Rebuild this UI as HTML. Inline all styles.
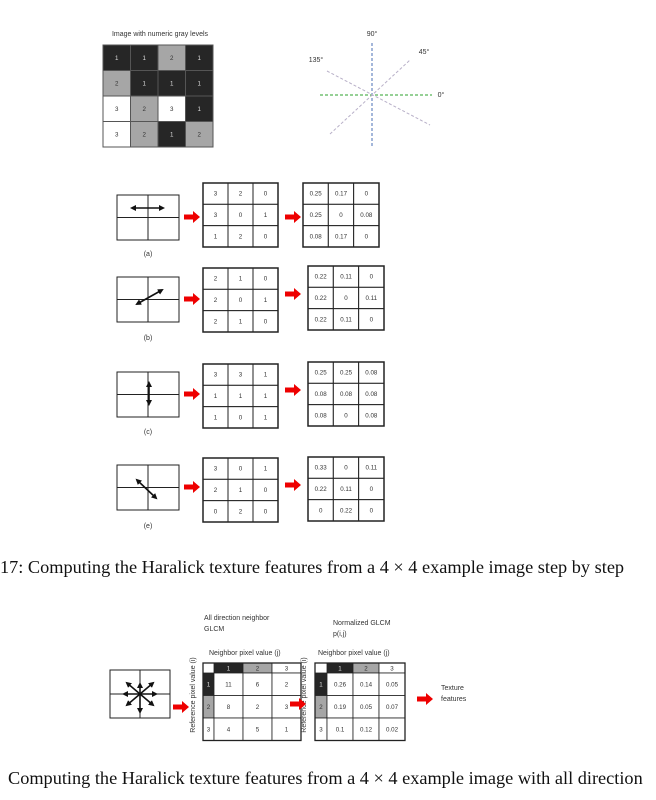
<!DOCTYPE html>
<html><head><meta charset="utf-8">
<style>
html,body{margin:0;padding:0;background:#fff;}
body{width:656px;height:800px;position:relative;overflow:hidden;}
svg{position:absolute;left:0;top:0;}
.cap{position:absolute;font-family:"Liberation Serif",serif;font-size:18.5px;white-space:nowrap;color:#111;}
</style></head>
<body>
<svg id="fig" width="656" height="800" font-family="Liberation Sans, sans-serif"></svg>
<div class="cap" style="left:0px;top:557px;font-size:18.3px;">17: Computing the Haralick texture features from a 4 × 4 example image step by step</div>
<div class="cap" style="left:8px;top:768px;font-size:18.3px;">Computing the Haralick texture features from a 4 × 4 example image with all direction</div>
<script>
const imageVals=[[1,1,2,1],[2,1,1,1],[3,2,3,1],[3,2,1,2]];
const glcmA=[[3,2,0],[3,0,1],[1,2,0]];
const normA=[["0.25","0.17","0"],["0.25","0","0.08"],["0.08","0.17","0"]];
const glcmB=[[2,1,0],[2,0,1],[2,1,0]];
const normB=[["0.22","0.11","0"],["0.22","0","0.11"],["0.22","0.11","0"]];
const glcmC=[[3,3,1],[1,1,1],[1,0,1]];
const normC=[["0.25","0.25","0.08"],["0.08","0.08","0.08"],["0.08","0","0.08"]];
const glcmD=[[3,0,1],[2,1,0],[0,2,0]];
const normD=[["0.33","0","0.11"],["0.22","0.11","0"],["0","0.22","0"]];
const glcmAll=[[11,6,2],[8,2,3],[4,5,1]];
const normAll=[["0.26","0.14","0.05"],["0.19","0.05","0.07"],["0.1","0.12","0.02"]];

const svg=document.getElementById('fig');
const NS='http://www.w3.org/2000/svg';
const FS=7, NFS=6.2;
function el(tag,attrs,parent){const e=document.createElementNS(NS,tag);for(const k in attrs)e.setAttribute(k,attrs[k]);(parent||svg).appendChild(e);return e;}
function txt(x,y,s,size,parent,anchor,fill){const t=el('text',{x:x,y:y,'font-size':size,'text-anchor':anchor||'middle',fill:fill||'#333'},parent);t.textContent=s;return t;}
const grayFill={1:'#262626',2:'#a6a6a6',3:'#ffffff'};
const grayText={1:'#ddd',2:'#333',3:'#333'};

let g=el('g',{});


txt(160,36,'Image with numeric gray levels',FS,g);
const ix=103,iy=45,cw=27.5,ch=25.5;
imageVals.forEach((row,r)=>row.forEach((v,c)=>{
  el('rect',{x:ix+c*cw,y:iy+r*ch,width:cw,height:ch,fill:grayFill[v],stroke:'#555','stroke-width':1},g);
  txt(ix+c*cw+cw/2,iy+r*ch+ch/2+2,String(v),NFS,g,'middle',grayText[v]);
}));

g=el('g',{});


el('line',{x1:372,y1:43,x2:372,y2:146,stroke:'#4a6fb5','stroke-width':1,'stroke-dasharray':'3,2'},g);
el('line',{x1:320,y1:95,x2:432,y2:95,stroke:'#2ca02c','stroke-width':1,'stroke-dasharray':'3,2'},g);
el('line',{x1:330,y1:134,x2:410,y2:60,stroke:'#b8b0c8','stroke-width':1,'stroke-dasharray':'3,2'},g);
el('line',{x1:327,y1:71,x2:430,y2:125,stroke:'#b8b0c8','stroke-width':1,'stroke-dasharray':'3,2'},g);
txt(372,36,'90°',FS,g);txt(424,54,'45°',FS,g);txt(316,62,'135°',FS,g);txt(441,97,'0°',FS,g);

function redArrow(x,y,name){
  const a=el('polygon',{points:`${x},${y-2.5} ${x+9},${y-2.5} ${x+9},${y-6} ${x+16},${y} ${x+9},${y+6} ${x+9},${y+2.5} ${x},${y+2.5}`,fill:'#ee0000'});
  
  
}
function matrix(x,y,w,h,data,name){
  const m=el('g',{});
  
  
  const cw=w/3,ch=h/3;
  data.forEach((row,r)=>row.forEach((v,c)=>{
    el('rect',{x:x+c*cw,y:y+r*ch,width:cw,height:ch,fill:'#fff',stroke:'#222','stroke-width':1},m);
    txt(x+c*cw+cw/2,y+r*ch+ch/2+2,String(v),NFS,m);
  }));
  el('rect',{x:x,y:y,width:w,height:h,fill:'none',stroke:'#222','stroke-width':1.5},m);
}
function dirBox(x,y,w,h,name,arrows){
  const b=el('g',{});
  
  
  el('rect',{x:x,y:y,width:w,height:h,fill:'#fff',stroke:'#222','stroke-width':1},b);
  el('line',{x1:x+w/2,y1:y,x2:x+w/2,y2:y+h,stroke:'#222','stroke-width':1},b);
  el('line',{x1:x,y1:y+h/2,x2:x+w,y2:y+h/2,stroke:'#222','stroke-width':1},b);
  arrows.forEach(a=>{
    el('line',{x1:a[0],y1:a[1],x2:a[2],y2:a[3],stroke:'#111','stroke-width':1.6,'marker-start':'url(#ah)','marker-end':'url(#ah)'},b);
  });
}
const defs=el('defs',{});
const mk=el('marker',{id:'ah',markerWidth:6,markerHeight:6,refX:4,refY:3,orient:'auto-start-reverse',markerUnits:'userSpaceOnUse'},defs);
el('path',{d:'M0,0 L6,3 L0,6 Z',fill:'#111'},mk);

const rows=[
 {by:195,m1y:183,m2y:183,m2x:303,lab:'(a)',ly:256,g1:glcmA,g2:normA,arr:[[132,208,163,208]],key:'a'},
 {by:277,m1y:268,m2y:266,m2x:308,lab:'(b)',ly:340,g1:glcmB,g2:normB,arr:[[137,304,162,290]],key:'b'},
 {by:372,m1y:364,m2y:362,m2x:308,lab:'(c)',ly:434,g1:glcmC,g2:normC,arr:[[149,383,149,404]],key:'c'},
 {by:465,m1y:458,m2y:457,m2x:308,lab:'(e)',ly:528,g1:glcmD,g2:normD,arr:[[137,480,156,498]],key:'d'}
];
rows.forEach(r=>{
  dirBox(117,r.by,62,45,'direction-box-'+r.key,r.arr);
  const l=txt(148,r.ly,r.lab,FS);
  
  
  redArrow(184,r.by+22,'arrow-to-glcm-'+r.key);
  matrix(203,r.m1y,75,64,r.g1,'glcm-'+r.key);
  redArrow(285,r.m2y+(r.key==='a'?34:28),'arrow-to-norm-'+r.key);
  matrix(r.m2x,r.m2y,76,64,r.g2,'normalized-glcm-'+r.key);
});

dirBox(110,670,60,48,'all-direction-box',[[140,684,140,712],[124,694,156,694],[127,683,153,705],[153,683,127,705]]);
redArrow(173,707,'arrow-to-all-glcm');
function headMatrix(x,y,lw,cw,hh,rh,data,name){
  const m=el('g',{});
  
  
  const heads=[1,2,3];
  heads.forEach((v,c)=>{
    el('rect',{x:x+lw+c*cw,y:y,width:cw,height:hh,fill:grayFill[v],stroke:'#222','stroke-width':0.8},m);
    txt(x+lw+c*cw+cw/2,y+hh-2.5,String(v),NFS,m,'middle',grayText[v]);
    el('rect',{x:x,y:y+hh+c*rh,width:lw,height:rh,fill:grayFill[v],stroke:'#222','stroke-width':0.8},m);
    txt(x+lw/2,y+hh+c*rh+rh/2+2,String(v),NFS,m,'middle',grayText[v]);
  });
  data.forEach((row,r)=>row.forEach((v,c)=>{
    el('rect',{x:x+lw+c*cw,y:y+hh+r*rh,width:cw,height:rh,fill:'#fff',stroke:'#222','stroke-width':0.8},m);
    txt(x+lw+c*cw+cw/2,y+hh+r*rh+rh/2+2,String(v),NFS,m);
  }));
  el('rect',{x:x,y:y,width:lw+3*cw,height:hh+3*rh,fill:'none',stroke:'#222','stroke-width':1.3},m);
}
headMatrix(203,663,11,29,10,22.5,glcmAll,'all-direction-glcm');
headMatrix(315,663,12,26,10,22.5,normAll,'all-direction-normalized-glcm');
let t;
t=txt(204,620,'All direction neighbor',FS,null,'start');
txt(204,631,'GLCM',FS,null,'start');
t=txt(333,625,'Normalized GLCM',FS,null,'start');
txt(333,636,'p(i,j)',FS,null,'start');
txt(209,655,'Neighbor pixel value (j)',FS,null,'start');
txt(318,655,'Neighbor pixel value (j)',FS,null,'start');
t=el('text',{x:0,y:0,'font-size':FS,'text-anchor':'middle',fill:'#333',transform:'translate(195,695) rotate(-90)'});t.textContent='Reference pixel value (i)';
t=el('text',{x:0,y:0,'font-size':FS,'text-anchor':'middle',fill:'#333',transform:'translate(306,695) rotate(-90)'});t.textContent='Reference pixel value (i)';
redArrow(290,704,'arrow-to-normalized');
redArrow(417,699,'arrow-to-features');
t=txt(441,690,'Texture',FS,null,'start');
txt(441,701,'features',FS,null,'start');
</script>
</body></html>
